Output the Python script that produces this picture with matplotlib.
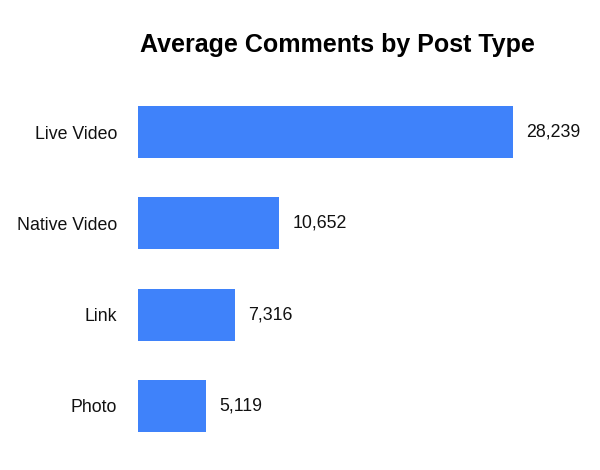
import matplotlib.pyplot as plt

plt.rcParams['font.family'] = ['Liberation Sans', 'DejaVu Sans']

post_types = ['Live Video', 'Native Video', 'Link', 'Photo']
avg_comments = [28239, 10652, 7316, 5119]
value_labels = ['28,239', '10,652', '7,316', '5,119']

bar_color = '#3F82FA'

fig = plt.figure(figsize=(6, 4.7), dpi=100)
fig.patch.set_facecolor('white')

# axes placed so bars line up with the reference pixels
ax = fig.add_axes([138 / 600, 1 - 451.6 / 470, (536.4 - 138) / 600, 365.2 / 470])

ys = list(range(len(post_types)))
ax.barh(ys, avg_comments, height=0.57, color=bar_color, edgecolor='none')

ax.set_xlim(0, 30000)
ax.set_ylim(len(post_types) - 0.5, -0.5)

for y, v, lab in zip(ys, avg_comments, value_labels):
    ax.annotate(lab, xy=(v, y), xytext=(13, 0), textcoords='offset pixels',
                ha='left', va='center', fontsize=12.8, color='#111111')

ax.set_yticks(ys)
ax.set_yticklabels(post_types, fontsize=12.8, color='#111111')
ax.tick_params(axis='y', length=0, pad=15)
ax.set_xticks([])
for s in ax.spines.values():
    s.set_visible(False)

fig.text(337 / 600, 1 - 51.7 / 470, 'Average Comments by Post Type',
         ha='center', va='baseline', fontsize=18, fontweight='bold', color='black')

fig.savefig('out.png', dpi=100, facecolor='white')
